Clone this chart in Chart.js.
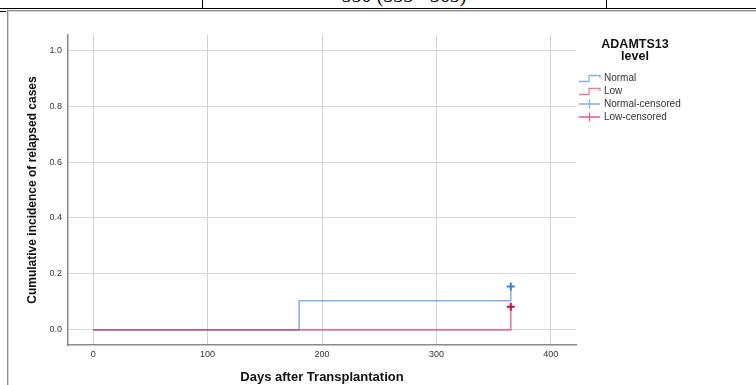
<!DOCTYPE html>
<html lang="en">
<head>
    <meta charset="UTF-8">
    <title>Cumulative incidence of relapsed cases</title>
    <script src="https://cdn.jsdelivr.net/npm/chart.js@4.4.1/dist/chart.umd.min.js"></script>
    <style>
        body {
            margin: 0;
            width: 756px;
            height: 385px;
            overflow: hidden;
            background: #fff;
            position: relative;
            font-family: 'Liberation Sans', Arial, sans-serif;
        }
        .table-text {
            position: absolute;
            left: 202px;
            width: 404px;
            top: -16px;
            text-align: center;
            font-family: 'Liberation Serif', 'Times New Roman', serif;
            font-size: 20px;
            color: #000;
        }
        .rule { position: absolute; background: #000; }
        .frame {
            position: absolute;
            left: 7px;
            top: 10px;
            width: 780px;
            height: 400px;
            border: 1px solid #8c8c8c;
            box-shadow: inset 1px 1px 0 #d4d4d4;
        }
        #chart { position: absolute; left: 0; top: 0; }
        .legend {
            position: absolute;
            left: 578px;
            top: 38px;
            width: 120px;
            font-size: 10px;
            color: #333;
        }
        .legend h4 {
            margin: 0 0 0 0;
            width: 114px;
            text-align: center;
            font-size: 12.5px;
            line-height: 12px;
            color: #111;
        }
        .legend .row {
            position: absolute;
            left: 0;
            height: 13px;
            line-height: 13px;
            white-space: nowrap;
        }
        .legend svg { position: absolute; left: 1px; top: 0; }
        .legend span { position: absolute; left: 26px; top: 0; }
    </style>
</head>
<body>
    <div class="table-text">550 (333 - 365)</div>
    <div class="rule" style="left:0;top:8px;width:756px;height:1px"></div>
    <div class="rule" style="left:202px;top:0;width:1px;height:8px"></div>
    <div class="rule" style="left:606px;top:0;width:1px;height:8px"></div>
    <div class="rule" style="left:0;top:11px;width:6px;height:1px"></div>
    <div class="frame"></div>
    <canvas id="chart" width="756" height="385"></canvas>
    <div class="legend" id="legend"></div>

    <script>
        // values
        const normalDays = [0, 180, 365, 365];
        const normalInc = [0, 0.104, 0.104, 0.155];
        const lowDays = [0, 365, 365];
        const lowInc = [0, 0, 0.083];
        const censoredDays = [365];
        const normalCensored = [0.155];
        const lowCensored = [0.083];
        const xTicks = [0, 100, 200, 300, 400];
        const yTicks = [0, 0.2, 0.4, 0.6, 0.8, 1.0];

        const blueLine = 'rgba(100, 150, 225, 0.75)';
        const redLine = 'rgba(214, 40, 90, 0.6)';
        const blueMark = '#3f80dc';
        const redMark = '#d2103c';

        const toPoints = (xs, ys) => xs.map((x, i) => ({ x: x, y: ys[i] }));

        new Chart(document.getElementById('chart').getContext('2d'), {
            type: 'line',
            data: {
                datasets: [
                    {
                        label: 'Low-censored',
                        data: toPoints(censoredDays, lowCensored),
                        showLine: false,
                        pointStyle: 'cross',
                        pointRadius: 4,
                        pointBorderWidth: 2,
                        borderColor: redMark
                    },
                    {
                        label: 'Normal-censored',
                        data: toPoints(censoredDays, normalCensored),
                        showLine: false,
                        pointStyle: 'cross',
                        pointRadius: 4,
                        pointBorderWidth: 2,
                        borderColor: blueMark
                    },
                    {
                        label: 'Low',
                        data: toPoints(lowDays, lowInc),
                        stepped: true,
                        borderColor: redLine,
                        borderWidth: 1.6,
                        pointRadius: 0
                    },
                    {
                        label: 'Normal',
                        data: toPoints(normalDays, normalInc),
                        stepped: true,
                        borderColor: blueLine,
                        borderWidth: 1.6,
                        pointRadius: 0
                    }
                ]
            },
            options: {
                responsive: false,
                animation: false,
                events: [],
                layout: { padding: { left: 0, top: 35, right: 180, bottom: 0 } },
                plugins: {
                    legend: { display: false },
                    tooltip: { enabled: false }
                },
                scales: {
                    x: {
                        type: 'linear',
                        min: -22,
                        max: 422,
                        afterFit: s => { s.height = 40; },
                        afterBuildTicks: s => { s.ticks = xTicks.map(v => ({ value: v })); },
                        grid: { color: '#d2d2d2', lineWidth: 1, drawTicks: false },
                        border: { color: '#8a8a8a', width: 1.5 },
                        ticks: {
                            padding: 4,
                            color: '#333',
                            font: { family: 'Liberation Sans', size: 9 },
                            maxRotation: 0
                        },
                        title: {
                            display: true,
                            text: 'Days after Transplantation',
                            color: '#111',
                            font: { family: 'Liberation Sans', size: 13, weight: 'bold' },
                            padding: { top: 0, bottom: 0 }
                        }
                    },
                    y: {
                        min: -0.054,
                        max: 1.054,
                        afterFit: s => { s.width = 68; },
                        afterBuildTicks: s => { s.ticks = yTicks.map(v => ({ value: v })); },
                        grid: { color: '#d8d8d8', lineWidth: 1, drawTicks: false },
                        border: { color: '#8a8a8a', width: 1.5 },
                        ticks: {
                            padding: 6,
                            color: '#333',
                            font: { family: 'Liberation Sans', size: 9 },
                            callback: v => v.toFixed(1)
                        },
                        title: {
                            display: true,
                            text: 'Cumulative incidence of relapsed cases',
                            color: '#111',
                            font: { family: 'Liberation Sans', size: 12, weight: 'bold' },
                            padding: { top: 25, bottom: 0 }
                        }
                    }
                }
            }
        });

        // legend in the SPSS style
        const legendItems = [
            { text: 'Normal', color: blueLine, kind: 'step' },
            { text: 'Low', color: redLine, kind: 'step' },
            { text: 'Normal-censored', color: 'rgba(100, 150, 225, 0.8)', kind: 'cross' },
            { text: 'Low-censored', color: 'rgba(214, 40, 90, 0.75)', kind: 'cross' }
        ];
        const legend = document.getElementById('legend');
        legend.innerHTML = '<h4>ADAMTS13<br>level</h4>';
        legendItems.forEach((item, i) => {
            const row = document.createElement('div');
            row.className = 'row';
            row.style.top = (33 + i * 13) + 'px';
            const icon = item.kind === 'step'
                ? '<path d="M0 10.5 H10 V4.5 H21 V7" fill="none" stroke="' + item.color + '" stroke-width="1.3"/>'
                : '<path d="M0 7 H21 M10.5 2.5 V11.5" fill="none" stroke="' + item.color + '" stroke-width="1.3"/>';
            row.innerHTML = '<svg width="22" height="13">' + icon + '</svg><span>' + item.text + '</span>';
            legend.appendChild(row);
        });
    </script>
</body>
</html>
